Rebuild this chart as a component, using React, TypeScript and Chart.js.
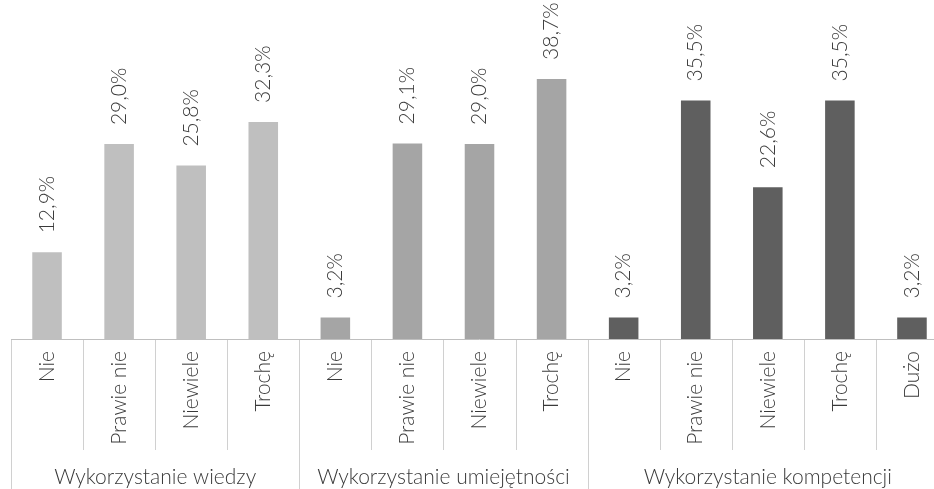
import React, { useEffect, useRef } from "react";
import { Chart, registerables } from "chart.js";

Chart.register(...registerables);

const groupNames = ["Wykorzystanie wiedzy", "Wykorzystanie umiejętności", "Wykorzystanie kompetencji"];
const group1Categories = ["Nie", "Prawie nie", "Niewiele", "Trochę"];
const group2Categories = ["Nie", "Prawie nie", "Niewiele", "Trochę"];
const group3Categories = ["Nie", "Prawie nie", "Niewiele", "Trochę", "Dużo"];
const group1Values = [12.9, 29.0, 25.8, 32.3];
const group2Values = [3.2, 29.1, 29.0, 38.7];
const group3Values = [3.2, 35.5, 22.6, 35.5, 3.2];
const groupColors = ["#bfbfbf", "#a5a5a5", "#5f5f5f"];

const FONT_FAMILY = "Lato, 'Open Sans', sans-serif";
const TEXT_COLOR = "#3a3a3a";
const FONT_SIZE = 21;

export default function App() {
  const ref = useRef<HTMLCanvasElement | null>(null);

  useEffect(() => {
    const canvas = ref.current;
    if (!canvas) return;
    const groups = [group1Categories, group2Categories, group3Categories];
    const groupValues = [group1Values, group2Values, group3Values];
    const labels: string[] = [];
    const values: number[] = [];
    const colors: string[] = [];
    const groupSizes: number[] = [];
    groups.forEach((g, gi) => {
      groupSizes.push(g.length);
      g.forEach((c, i) => {
        labels.push(c);
        values.push(groupValues[gi][i]);
        colors.push(groupColors[gi]);
      });
    });

    const decorPlugin = {
      id: "decor",
      afterDraw(chart: any) {
        const ctx = chart.ctx;
        const x = chart.scales.x;
        const area = chart.chartArea;
        const axisY = area.bottom;
        const n = labels.length;
        const step = x.getPixelForValue(1) - x.getPixelForValue(0);
        const boundary = (i: number) => x.getPixelForValue(i) - step / 2;
        ctx.save();
        const groupBounds = new Set<number>();
        let acc = 0;
        groupBounds.add(0);
        groupSizes.forEach((s) => {
          acc += s;
          groupBounds.add(acc);
        });
        ctx.strokeStyle = "#d0d0d0";
        ctx.lineWidth = 1;
        for (let i = 0; i <= n; i++) {
          const bx = Math.round(boundary(i)) + 0.5;
          const bottom = groupBounds.has(i) ? chart.height : axisY + 111;
          ctx.beginPath();
          ctx.moveTo(bx, axisY);
          ctx.lineTo(bx, bottom);
          ctx.stroke();
        }
        ctx.strokeStyle = "#bfbfbf";
        ctx.beginPath();
        ctx.moveTo(boundary(0), Math.round(axisY) + 0.5);
        ctx.lineTo(boundary(n), Math.round(axisY) + 0.5);
        ctx.stroke();
        ctx.fillStyle = TEXT_COLOR;
        ctx.font = `300 ${FONT_SIZE}px ${FONT_FAMILY}`;
        ctx.textAlign = "center";
        ctx.textBaseline = "middle";
        let start = 0;
        groupSizes.forEach((s, gi) => {
          const cx = (boundary(start) + boundary(start + s)) / 2;
          ctx.fillText(groupNames[gi], cx, 477);
          start += s;
        });
        const meta = chart.getDatasetMeta(0);
        ctx.textAlign = "left";
        meta.data.forEach((bar: any, i: number) => {
          const v = values[i];
          const txt = v.toFixed(1).replace(".", ",") + "%";
          ctx.save();
          ctx.translate(bar.x, bar.y - 19);
          ctx.rotate(-Math.PI / 2);
          ctx.fillText(txt, 0, 0);
          ctx.restore();
        });
        ctx.restore();
      },
    };

    const chart = new Chart(canvas, {
      type: "bar",
      data: {
        labels,
        datasets: [
          {
            data: values,
            backgroundColor: colors,
            barPercentage: 0.41,
            categoryPercentage: 1,
          },
        ],
      },
      options: {
        responsive: false,
        animation: false,
        devicePixelRatio: 1,
        layout: { padding: { left: 11, right: 12, top: 3, bottom: 0 } },
        plugins: { legend: { display: false }, tooltip: { enabled: false } },
        scales: {
          x: {
            grid: { display: false, drawTicks: false },
            border: { display: false },
            afterFit: (scale: any) => {
              scale.height = 150;
            },
            ticks: {
              autoSkip: false,
              minRotation: 90,
              maxRotation: 90,
              padding: 12,
              color: TEXT_COLOR,
              font: { family: FONT_FAMILY, size: FONT_SIZE, weight: "300" as any },
            },
          },
          y: {
            display: false,
            min: 0,
            max: 50,
          },
        },
      },
      plugins: [decorPlugin],
    });
    return () => chart.destroy();
  }, []);

  return (
    <div style={{ position: "fixed", left: 0, top: 0, width: 960, height: 489, overflow: "hidden", background: "#fff" }}>
      <canvas ref={ref} width={960} height={489} style={{ width: 960, height: 489, display: "block" }} />
    </div>
  );
}
